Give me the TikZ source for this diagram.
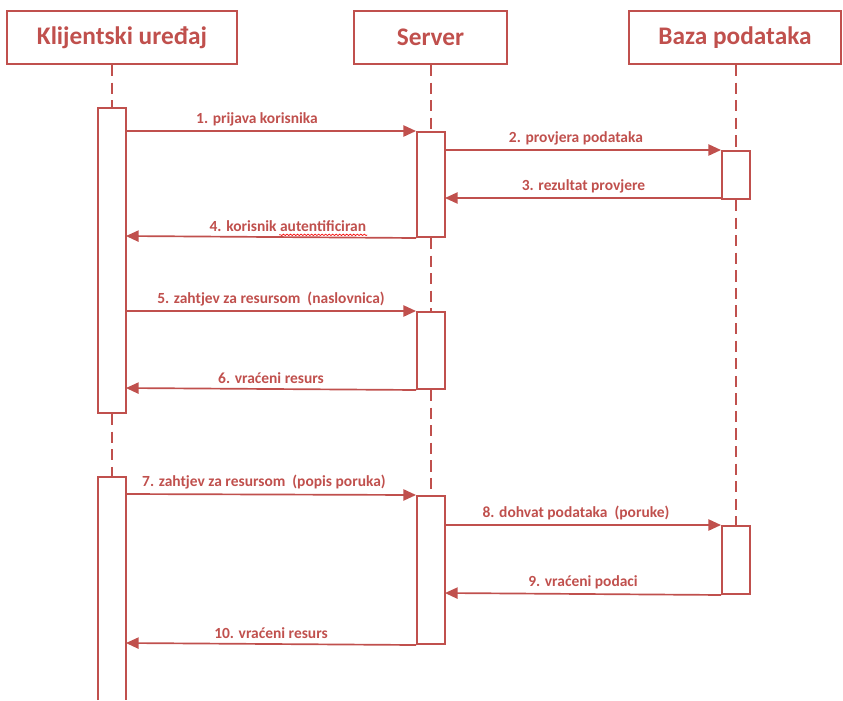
\documentclass[tikz,border=0pt]{standalone}
\usepackage{fontspec}
\setmainfont{Carlito}
\usepackage{xcolor}
\usetikzlibrary{arrows.meta, calc, decorations.pathmorphing}
\definecolor{uredred}{HTML}{C0504D}

\begin{document}
\begin{tikzpicture}[x=0.025cm, y=-0.025cm,
	actor/.style={draw=uredred, line width=1.4pt, inner sep=0pt, minimum height=1.325cm, text=uredred, font=\bfseries\fontsize{18}{20}\selectfont},
	bar/.style={draw=uredred, line width=1.4pt, fill=white, inner sep=0pt, minimum width=0.7cm, anchor=north},
	life/.style={draw=uredred, line width=1.2pt, dash pattern=on 8pt off 4.5pt},
	msg/.style={draw=uredred, line width=1.2pt, -{Triangle[length=9pt, width=8pt]}},
	lbl/.style={text=uredred, font=\bfseries\fontsize{11}{13}\selectfont, inner sep=3pt}]
				  \useasboundingbox (0,0) rectangle (843,700);
				  \node[actor, minimum width=5.75cm] (klijent) at (122,37.5) {Klijentski uređaj};
				  \node[actor, minimum width=3.8cm] (server) at (430.5,37.5) {Server};
				  \node[actor, minimum width=5.3cm] (baza) at (735,37.5) {Baza podataka};
				  \node[bar, minimum height=7.625cm] (kb1) at (112,107) {};
				  \node[bar, minimum height=2.625cm] (sb1) at (431,131) {};
				  \node[bar, minimum height=1.925cm] (sb2) at (431,311) {};
				  \node[bar, minimum height=3.7cm] (sb3) at (431,495) {};
				  \node[bar, minimum height=1.2cm] (bb1) at (736,150) {};
				  \node[bar, minimum height=1.7cm] (bb2) at (736,525) {};
				  \coordinate (kb2top) at (112,477);
				  \draw[life] (kb1.north |- klijent.south) -- (kb1.north);
				  \draw[life] (kb1.south) -- (kb2top);
				  \draw[uredred, line width=1.4pt] (98,700) |- (126,477) -- (126,700);
				  \draw[life] (sb1.north |- server.south) -- (sb1.north);
				  \draw[life] (sb1.south) -- (sb2.north);
				  \draw[life] (sb2.south) -- (sb3.north);
				  \draw[life] (bb1.north |- baza.south) -- (bb1.north);
				  \draw[life] (bb1.south) -- (bb2.north);
				  \coordinate (k1) at (126,131);
				  \coordinate (k4) at (126,236);
				  \coordinate (k5) at (126,311);
				  \coordinate (k6) at (126,388);
				  \coordinate (k7) at (126,494);
				  \coordinate (k10) at (126,643);
				  \coordinate (s2) at (445,150);
				  \coordinate (s3) at (445,198);
				  \coordinate (s8) at (445,525);
				  \coordinate (s9) at (445,593);
				  \coordinate (b3) at (722,198);
				  \coordinate (b9) at (722,593);
				  \draw[msg] (k1) -- node[lbl, above, xshift=-10] {1. prijava korisnika} (sb1.north west);
				  \draw[msg] (s2) -- node[lbl, above, xshift=-5] {2. provjera podataka} (bb1.north west);
				  \draw[msg] (b3) -- node[lbl, above] {3. rezultat provjere} (s3);
				  \draw[msg] (sb1.south west) -- node[lbl, above, xshift=12] (l4) {4. korisnik autentificiran} (k4);
				  \draw[red!85!uredred, line width=0.5pt, decorate, decoration={snake, amplitude=0.5pt, segment length=2.5pt}]
				  	($(l4.base east)+(-4,3)$) -- ($(l4.base east)+(-92,3)$);
				  \draw[msg] (k5) -- node[lbl, above] {5. zahtjev za resursom\ \ (naslovnica)} (sb2.north west);
				  \draw[msg] (sb2.south west) -- node[lbl, above] {6. vraćeni resurs} (k6);
				  \draw[msg] (k7) -- node[lbl, above, xshift=-5] {7. zahtjev za resursom\ \ (popis poruka)} (sb3.north west);
				  \draw[msg] (s8) -- node[lbl, above, xshift=-5] {8. dohvat podataka\ \ (poruke)} (bb2.north west);
				  \draw[msg] (bb2.south west) -- node[lbl, above] {9. vraćeni podaci} (s9);
				  \draw[msg] (sb3.south west) -- node[lbl, above] {10. vraćeni resurs} (k10);
				\end{tikzpicture}
\end{document}
